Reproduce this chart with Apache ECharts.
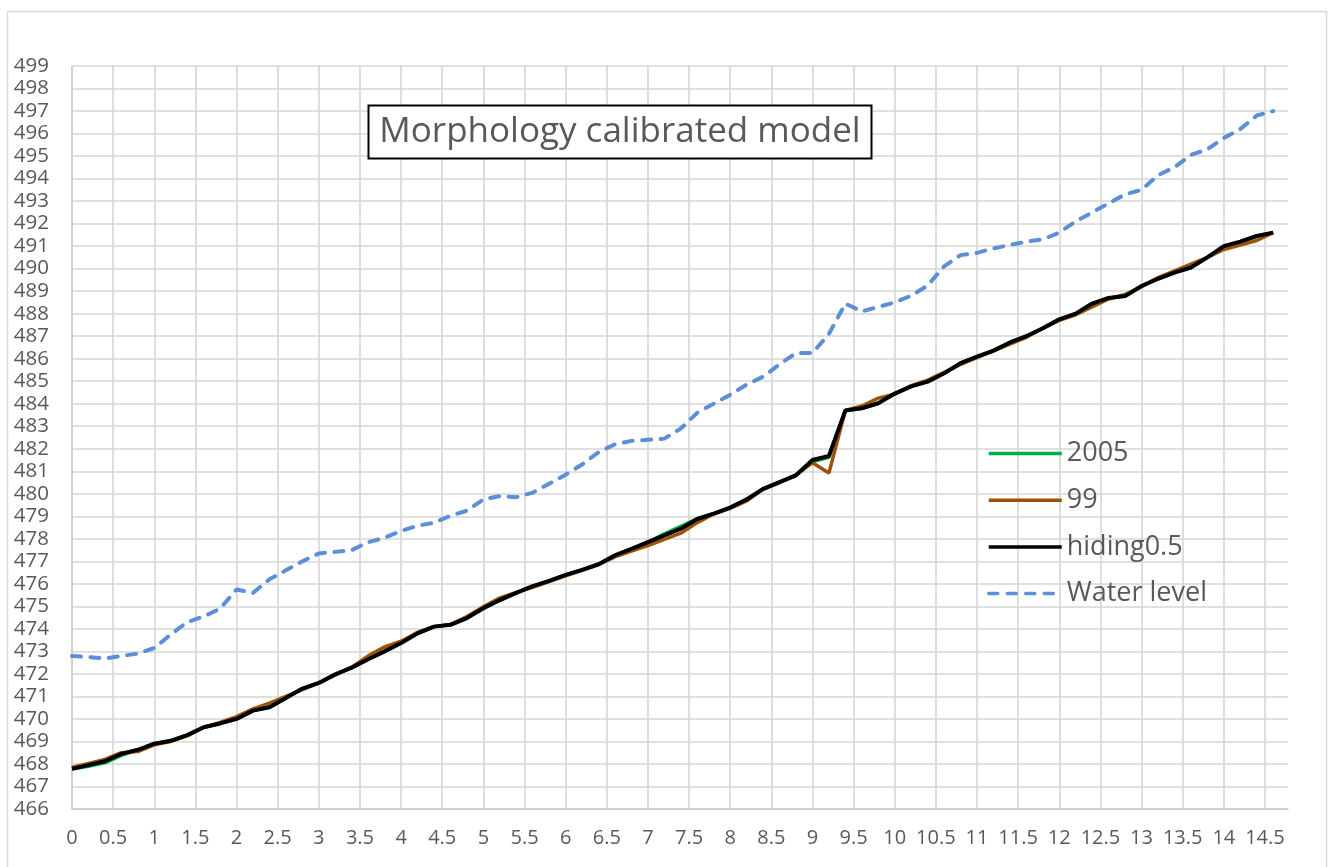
<!DOCTYPE html>
<html lang="en">
  <head>
    <meta charset="UTF-8" />
    <title>Morphology calibrated model</title>
    <style>
      html, body { margin: 0; padding: 0; background: #fff; }
      #chart { width: 1330px; height: 867px; }
    </style>
  </head>
  <body>
    <div id="chart"></div>

    <script src="https://cdn.jsdelivr.net/npm/echarts@6/dist/echarts.min.js"></script>
    <script>
      // distance along the reach (km), one point every 0.2
      const distance = [
        0, 0.2, 0.4, 0.6, 0.8, 1, 1.2, 1.4, 1.6, 1.8,
        2, 2.2, 2.4, 2.6, 2.8, 3, 3.2, 3.4, 3.6, 3.8,
        4, 4.2, 4.4, 4.6, 4.8, 5, 5.2, 5.4, 5.6, 5.8,
        6, 6.2, 6.4, 6.6, 6.8, 7, 7.2, 7.4, 7.6, 7.8,
        8, 8.2, 8.4, 8.6, 8.8, 9, 9.2, 9.4, 9.6, 9.8,
        10, 10.2, 10.4, 10.6, 10.8, 11, 11.2, 11.4, 11.6, 11.8,
        12, 12.2, 12.4, 12.6, 12.8, 13, 13.2, 13.4, 13.6, 13.8,
        14, 14.2, 14.4, 14.6
      ];

      const bed2005 = [
        467.78, 467.9, 468.05, 468.38, 468.63, 468.9, 469.03, 469.28, 469.63, 469.8,
        470.0, 470.37, 470.52, 470.93, 471.35, 471.6, 471.98, 472.28, 472.65, 473.0,
        473.37, 473.8, 474.1, 474.18, 474.48, 474.92, 475.28, 475.6, 475.9, 476.13,
        476.4, 476.62, 476.87, 477.27, 477.55, 477.85, 478.22, 478.55, 478.9, 479.12,
        479.39, 479.75, 480.22, 480.52, 480.82, 481.42, 481.62, 483.7, 483.8, 484.02,
        484.45, 484.77, 484.98, 485.35, 485.8, 486.09, 486.36, 486.72, 487.0, 487.35,
        487.75, 488.0, 488.45, 488.7, 488.78, 489.23, 489.55, 489.82, 490.05, 490.5,
        491.0, 491.2, 491.45, 491.6
      ];

      const bed99 = [
        467.85, 468.02, 468.2, 468.5, 468.55, 468.85, 469.0, 469.25, 469.62, 469.85,
        470.1, 470.45, 470.7, 471.0, 471.3, 471.6, 471.95, 472.3, 472.8, 473.2,
        473.45, 473.85, 474.1, 474.2, 474.55, 474.98, 475.38, 475.62, 475.85, 476.1,
        476.35, 476.6, 476.85, 477.2, 477.45, 477.7, 477.98, 478.25, 478.72, 479.1,
        479.35, 479.68, 480.2, 480.5, 480.85, 481.38, 480.92, 483.7, 483.9, 484.25,
        484.42, 484.8, 485.05, 485.4, 485.75, 486.05, 486.35, 486.65, 486.95, 487.35,
        487.7, 487.95, 488.3, 488.65, 488.85, 489.2, 489.6, 489.9, 490.2, 490.5,
        490.85, 491.05, 491.25, 491.6
      ];

      const hiding05 = [
        467.78, 467.95, 468.12, 468.45, 468.63, 468.9, 469.03, 469.28, 469.63, 469.8,
        470.0, 470.37, 470.52, 470.93, 471.35, 471.6, 471.98, 472.28, 472.65, 473.0,
        473.37, 473.8, 474.1, 474.18, 474.48, 474.92, 475.28, 475.6, 475.9, 476.13,
        476.4, 476.62, 476.87, 477.27, 477.55, 477.85, 478.15, 478.45, 478.88, 479.12,
        479.39, 479.75, 480.22, 480.52, 480.82, 481.5, 481.68, 483.7, 483.8, 484.02,
        484.45, 484.77, 484.98, 485.35, 485.8, 486.09, 486.36, 486.72, 487.0, 487.35,
        487.75, 488.0, 488.45, 488.7, 488.78, 489.23, 489.55, 489.82, 490.05, 490.5,
        491.0, 491.2, 491.45, 491.6
      ];

      const waterLevel = [
        472.8, 472.75, 472.68, 472.8, 472.9, 473.15, 473.75, 474.3, 474.55, 474.9,
        475.75, 475.6, 476.2, 476.6, 477.0, 477.35, 477.42, 477.5, 477.85, 478.05,
        478.35, 478.58, 478.72, 479.02, 479.25, 479.75, 479.9, 479.85, 480.05, 480.45,
        480.85, 481.3, 481.85, 482.2, 482.35, 482.4, 482.45, 482.9, 483.6, 484.0,
        484.4, 484.85, 485.2, 485.75, 486.25, 486.25, 487.1, 488.45, 488.1, 488.3,
        488.5, 488.8, 489.25, 490.1, 490.6, 490.7, 490.9, 491.05, 491.2, 491.3,
        491.6, 492.1, 492.5, 492.9, 493.3, 493.5, 494.15, 494.5, 495.05, 495.3,
        495.8, 496.2, 496.8, 497.0
      ];

      const chartTitle = 'Morphology calibrated model';
      const FONT = 'Open Sans';
      const GREY = '#595959';

      function pairs(ys) {
        return distance.map((x, i) => [x, ys[i]]);
      }

      const chart = echarts.init(document.getElementById('chart'), null, { renderer: 'canvas' });

      const option = {
        animation: false,
        backgroundColor: '#fff',
        textStyle: { fontFamily: FONT },
        grid: { left: 72, top: 66, width: 1216, height: 743, containLabel: false },
        xAxis: {
          type: 'value',
          min: 0,
          max: 14.78,
          interval: 0.5,
          axisLine: { show: true, lineStyle: { color: '#cccccc', width: 1.5 } },
          axisTick: { show: false },
          axisLabel: {
            color: GREY, fontSize: 20, fontFamily: FONT, margin: 19,
            showMaxLabel: false
          },
          splitLine: { show: true, showMaxLine: false, lineStyle: { color: '#d6d6d6', width: 1.6 } }
        },
        yAxis: {
          type: 'value',
          min: 466,
          max: 499,
          interval: 1,
          axisLine: { show: true, lineStyle: { color: '#cccccc', width: 1.5 } },
          axisTick: { show: false },
          axisLabel: { color: GREY, fontSize: 20.5, fontFamily: FONT, margin: 23 },
          splitLine: { show: true, lineStyle: { color: '#d6d6d6', width: 1.6 } }
        },
        legend: {
          orient: 'vertical',
          left: 982,
          top: 435,
          itemWidth: 73,
          itemHeight: 14,
          itemGap: 19.7,
          lineStyle: { width: 3.5 },
          itemStyle: { opacity: 0 },
          textStyle: { color: GREY, fontSize: 27, lineHeight: 27, fontFamily: FONT },
          data: ['2005', '99', 'hiding0.5', 'Water level']
        },
        series: [
          {
            name: '2005', type: 'line', data: pairs(bed2005), symbol: 'none',
            lineStyle: { color: '#00b050', width: 3.5 }, itemStyle: { color: '#00b050' }
          },
          {
            name: '99', type: 'line', data: pairs(bed99), symbol: 'none',
            lineStyle: { color: '#9c5208', width: 3.5 }, itemStyle: { color: '#9c5208' }
          },
          {
            name: 'hiding0.5', type: 'line', data: pairs(hiding05), symbol: 'none',
            lineStyle: { color: '#000', width: 4 }, itemStyle: { color: '#000' }
          },
          {
            name: 'Water level', type: 'line', data: pairs(waterLevel), symbol: 'none',
            lineStyle: { color: '#5b8fd8', width: 4, type: [9, 9.5], cap: 'round' },
            itemStyle: { color: '#5b8fd8' }
          }
        ],
        graphic: [
          // outer chart border
          {
            type: 'rect', z: -10, silent: true,
            shape: { x: 7.5, y: 11.5, width: 1319, height: 880 },
            style: { fill: null, stroke: '#d9d9d9', lineWidth: 1.5 }
          },
          // boxed title inside the plot
          {
            type: 'rect', z: 100,
            shape: { x: 368.5, y: 105.5, width: 503, height: 53 },
            style: { fill: '#fff', stroke: '#000', lineWidth: 2 }
          },
          {
            type: 'text', z: 101, x: 620, y: 132,
            style: {
              text: chartTitle, fill: GREY, font: '35px "Open Sans"',
              align: 'center', verticalAlign: 'middle'
            }
          }
        ]
      };

      chart.setOption(option);
    </script>
  </body>
</html>
